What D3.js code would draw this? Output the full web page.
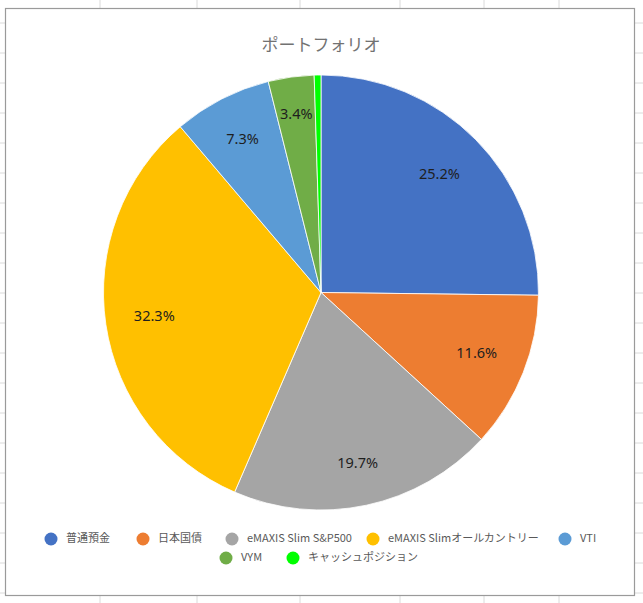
<!DOCTYPE html>
<html>
<head>
<meta charset="utf-8">
<script src="https://cdn.jsdelivr.net/npm/d3@7"></script>
<style>
  body { margin: 0; background: #fff; }
  svg { display: block; }
</style>
</head>
<body>
<div id="chart"></div>
<script>
// portfolio data
const categories = ["普通預金", "日本国債", "eMAXIS Slim S&P500", "eMAXIS Slimオールカントリー", "VTI", "VYM", "キャッシュポジション"];
const shares = [25.2, 11.6, 19.7, 32.3, 7.3, 3.4, 0.5];
const colors = ["#4472C4", "#ED7D31", "#A5A5A5", "#FFC000", "#5B9BD5", "#70AD47", "#00FF00"];
const showLabel = [true, true, true, true, true, true, false];
const title = "ポートフォリオ";

// label distance from centre, as a fraction of the radius
const labelRadius = [0.765, 0.77, 0.805, 0.775, 0.79, 0.825, 0.8];

const width = 643, height = 603;
const cx = 321, cy = 292.5, radius = 217.5;

const svg = d3.select("#chart").append("svg")
    .attr("width", width)
    .attr("height", height);

// spreadsheet cell grid behind the chart
const colLines = [100, 197, 300, 400, 484, 559];
const rowLines = d3.range(23, height, 30);
svg.append("g")
    .selectAll("line.col")
    .data(colLines)
    .enter()
    .append("line")
    .attr("x1", d => d).attr("x2", d => d)
    .attr("y1", 0).attr("y2", height)
    .attr("stroke", "#dadada").attr("stroke-width", 1);
svg.append("g")
    .selectAll("line.row")
    .data(rowLines)
    .enter()
    .append("line")
    .attr("x1", 0).attr("x2", width)
    .attr("y1", d => d).attr("y2", d => d)
    .attr("stroke", "#dadada").attr("stroke-width", 1);

// chart area
svg.append("rect")
    .attr("x", 5.5).attr("y", 8.5)
    .attr("width", 629).attr("height", 587)
    .attr("fill", "#fff")
    .attr("stroke", "#9a9a9a")
    .attr("stroke-width", 1.2);

svg.append("text")
    .text(title)
    .attr("x", cx)
    .attr("y", 51)
    .attr("text-anchor", "middle")
    .attr("font-family", "'Noto Sans CJK JP', sans-serif")
    .attr("font-size", 17)
    .attr("fill", "#727272");

const pie = d3.pie().sort(null).value(d => d);
const arcs = pie(shares);
const arc = d3.arc().innerRadius(0).outerRadius(radius);

const g = svg.append("g").attr("transform", `translate(${cx},${cy})`);

g.selectAll("path")
    .data(arcs)
    .enter()
    .append("path")
    .attr("d", arc)
    .attr("fill", (d, i) => colors[i])
    .attr("stroke", "#fff")
    .attr("stroke-width", 0.8);

g.selectAll("text")
    .data(arcs.filter((d, i) => showLabel[i]))
    .enter()
    .append("text")
    .text(d => d.data.toFixed(1) + "%")
    .attr("transform", d => {
        const r = radius * labelRadius[d.index];
        const pos = d3.arc().innerRadius(r).outerRadius(r).centroid(d);
        return `translate(${pos})`;
    })
    .attr("text-anchor", "middle")
    .attr("dominant-baseline", "middle")
    .attr("font-family", "'Noto Sans', sans-serif")
    .attr("font-size", 14.5)
    .attr("fill", "#1e1e1e");

// legend, two rows like the original
const legendPos = [
    [51, 539], [143, 539], [232, 539], [373, 539], [565, 539],
    [226, 558], [293, 558]
];
const legend = svg.append("g")
    .selectAll("g")
    .data(categories)
    .enter()
    .append("g")
    .attr("transform", (d, i) => `translate(${legendPos[i][0]},${legendPos[i][1]})`);

legend.append("circle")
    .attr("r", 6.5)
    .attr("fill", (d, i) => colors[i]);

legend.append("text")
    .text(d => d)
    .attr("x", 15)
    .attr("y", 0)
    .attr("dominant-baseline", "middle")
    .attr("font-family", "'Noto Sans CJK JP', sans-serif")
    .attr("font-size", 11)
    .attr("fill", "#595959");
</script>
</body>
</html>
